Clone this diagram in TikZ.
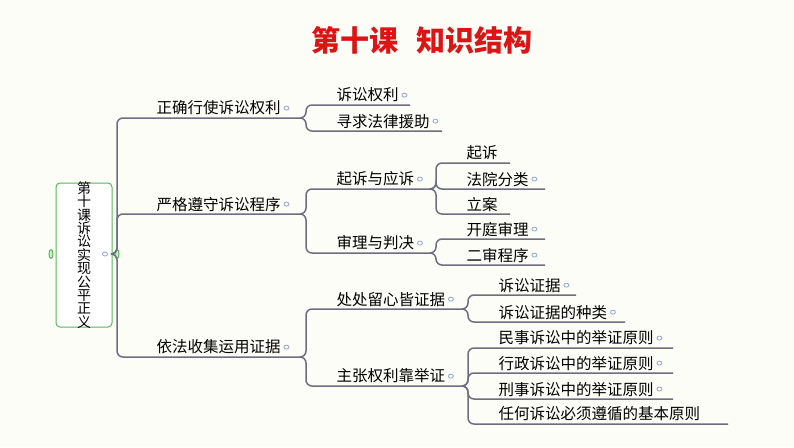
\documentclass[tikz,border=0pt]{standalone}
\usepackage{fontspec}
\newfontfamily\cjk{Noto Sans CJK SC}
\begin{document}
\begin{tikzpicture}[x=1pt,y=-1pt,
  conn/.style={draw=lc,line width=1.5pt,rounded corners=6pt},
  lbl/.style={font=\cjk\fontsize{15.5}{16}\selectfont,anchor=south west,inner sep=1.5pt,text=black},
  mkr/.style={draw=mc,line width=0.8pt,ellipse,minimum width=5pt,minimum height=4pt,inner sep=0pt}]
\definecolor{lc}{HTML}{6E6E80}
\definecolor{mc}{HTML}{8FA8D0}
\definecolor{bg}{HTML}{FDFDF7}
\usetikzlibrary{shapes.geometric}
\fill[bg] (0,0) rectangle (794,447);
\useasboundingbox (0,0) rectangle (794,447);
\node[font=\cjk\bfseries\fontsize{29}{31}\selectfont,text={rgb,255:red,220;green,20;blue,20}] (title) at (422,40) {第十课\hspace{0.6em}知识结构};
% root
\node[draw={rgb,255:red,90;green,180;blue,90},line width=1pt,rounded corners=4pt,minimum width=56pt,minimum height=144pt,fill=white,inner sep=0pt] (root) at (84,255) {};
\node[font=\cjk\fontsize{14}{13.4}\selectfont,align=center] (roott) at (84,255) {第\\十\\课\\诉\\讼\\实\\现\\公\\平\\正\\义};
\node[draw={rgb,255:red,90;green,180;blue,90},fill={rgb,255:red,200;green,240;blue,200},line width=1pt,ellipse,minimum width=4pt,minimum height=9pt,inner sep=0pt] (hl) at (51,254) {};
\node[draw={rgb,255:red,90;green,180;blue,90},fill={rgb,255:red,200;green,240;blue,200},line width=1pt,ellipse,minimum width=4pt,minimum height=9pt,inner sep=0pt] (hr) at (117,254) {};
\node[mkr] (rm) at (105,254) {};
\coordinate (rp) at (112,254);
% #1 parent, #2 name, #3 trunk x, #4 y, #5 end x, #6 text x, #7 text
\newcommand\kid[7]{%
  \coordinate (#2s) at (#3,#4); \coordinate (#2e) at (#5,#4);
  \draw[conn] (#1) -| (#2s) -- (#2e);
  \node[lbl] (#2) at (#6,#4-1) {#7};}
\newcommand\mk[1]{\node[mkr,xshift=4pt] at (#1.east) {};}
\kid{rp}{a}{117}{118}{302}{155}{正确行使诉讼权利}\mk{a}
\kid{rp}{b}{117}{214}{302}{155}{严格遵守诉讼程序}\mk{b}
\kid{rp}{c}{117}{357}{302}{155}{依法收集运用证据}\mk{c}
\kid{ae}{a1}{306}{105}{410}{335}{诉讼权利}\mk{a1}
\kid{ae}{a2}{306}{131}{442}{335}{寻求法律援助}\mk{a2}
\kid{be}{b1}{306}{189}{432}{335}{起诉与应诉}\mk{b1}
\kid{be}{b2}{306}{253}{432}{335}{审理与判决}\mk{b2}
\kid{b1e}{b11}{436}{163}{510}{465}{起诉}
\kid{b1e}{b12}{436}{189}{545}{465}{法院分类}\mk{b12}
\kid{b1e}{b13}{436}{214}{510}{465}{立案}
\kid{b2e}{b21}{436}{239}{545}{465}{开庭审理}\mk{b21}
\kid{b2e}{b22}{436}{265}{545}{465}{二审程序}\mk{b22}
\kid{ce}{c1}{306}{309}{465}{335}{处处留心皆证据}\mk{c1}
\kid{ce}{c2}{306}{386}{465}{335}{主张权利靠举证}\mk{c2}
\kid{c1e}{c11}{468}{295}{576}{497}{诉讼证据}\mk{c11}
\kid{c1e}{c12}{468}{322}{625}{497}{诉讼证据的种类}\mk{c12}
\kid{c2e}{c21}{468}{348}{673}{497}{民事诉讼中的举证原则}\mk{c21}
\kid{c2e}{c22}{468}{373}{673}{497}{行政诉讼中的举证原则}\mk{c22}
\kid{c2e}{c23}{468}{399}{673}{497}{刑事诉讼中的举证原则}\mk{c23}
\kid{c2e}{c24}{468}{424}{728}{497}{任何诉讼必须遵循的基本原则}
\end{tikzpicture}
\end{document}
